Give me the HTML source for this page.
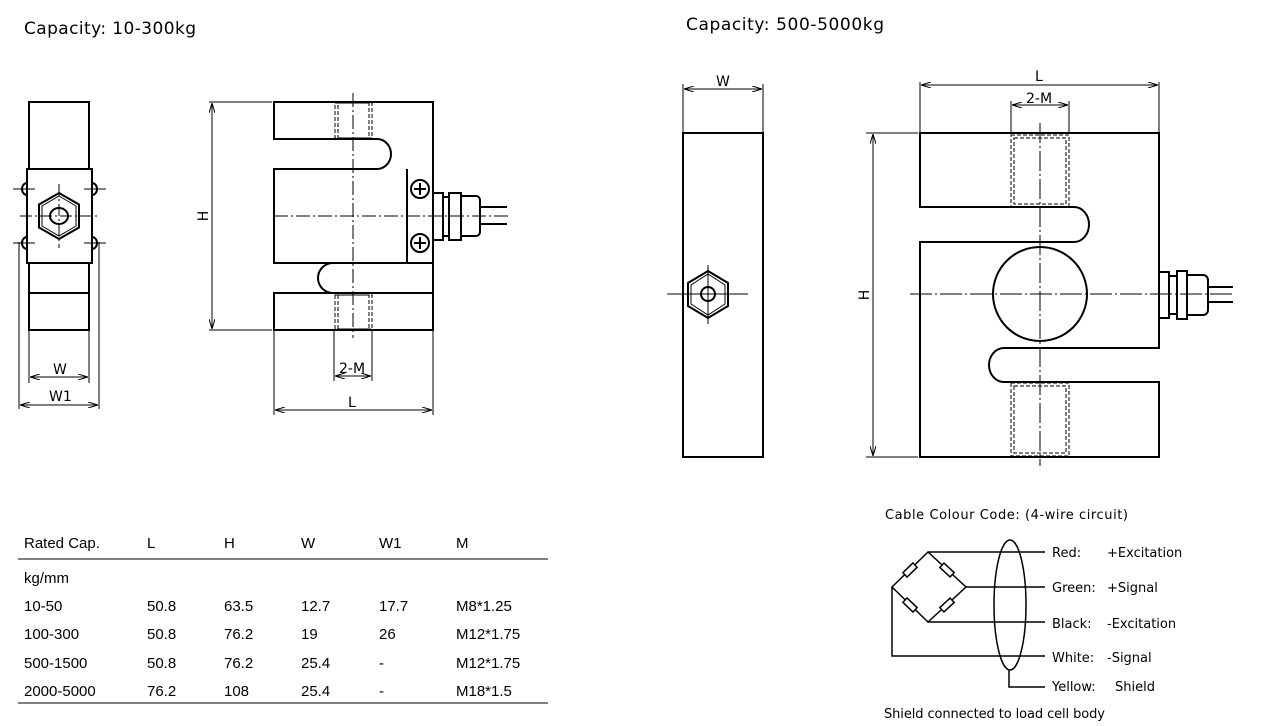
<!DOCTYPE html>
<html><head><meta charset="utf-8"><style>
html,body{margin:0;padding:0;background:#fff;}
svg{display:block}
.t{font-family:"DejaVu Sans","Liberation Sans",sans-serif;fill:#000}
.a{font-family:"Liberation Sans",Arial,sans-serif;font-size:15px;fill:#000}
</style></head><body>
<svg width="1263" height="726" viewBox="0 0 1263 726" xmlns="http://www.w3.org/2000/svg">
<defs>
<marker id="ar" viewBox="0 0 10 6" refX="10" refY="3" markerWidth="10" markerHeight="6" orient="auto-start-reverse" markerUnits="userSpaceOnUse"><path d="M0,0 L10,3 L0,6" fill="none" stroke="#000" stroke-width="1"/></marker>
</defs>
<g class="t">
<text x="24" y="34" font-size="17" textLength="172">Capacity: 10-300kg</text>
<text x="686" y="30" font-size="17" textLength="198">Capacity: 500-5000kg</text>
</g>

<!-- LEFT SIDE VIEW -->
<g fill="none" stroke="#000" stroke-width="2">
<rect x="29" y="102" width="60" height="228"/>
<path d="M27,183 a5,6 0 0 0 0,12 z M27,237 a5,6 0 0 0 0,12z M92,183 a5,6 0 0 1 0,12z M92,237 a5,6 0 0 1 0,12z"/>
<rect x="27" y="169" width="65" height="94" fill="#fff"/>
<line x1="29" y1="293" x2="89" y2="293"/>
<polygon points="59,193 79,204.5 79,227.5 59,239 39,227.5 39,204.5"/>
<polygon points="59,196 76,206 76,226 59,236 42,226 42,206" stroke-width="1"/>
<ellipse cx="59" cy="216" rx="9" ry="8"/>
</g>
<g stroke="#000" stroke-width="1" fill="none">
<line x1="13" y1="189" x2="35" y2="189"/><line x1="13" y1="243" x2="35" y2="243"/>
<line x1="84" y1="189" x2="106" y2="189"/><line x1="84" y1="243" x2="106" y2="243"/>
<line x1="20" y1="216" x2="100" y2="216" stroke-dasharray="12 3 2 3"/>
<line x1="59" y1="184" x2="59" y2="248" stroke-dasharray="12 3 2 3"/>
<line x1="29" y1="330" x2="29" y2="383"/><line x1="89" y1="330" x2="89" y2="383"/>
<line x1="19" y1="242" x2="19" y2="409"/><line x1="99" y1="242" x2="99" y2="409"/>
<line x1="30" y1="377" x2="88" y2="377" marker-start="url(#ar)" marker-end="url(#ar)"/>
<line x1="20" y1="405" x2="98" y2="405" marker-start="url(#ar)" marker-end="url(#ar)"/>
</g>
<g class="t" font-size="14"><text x="53" y="374">W</text><text x="49" y="401">W1</text></g>

<!-- LEFT FRONT VIEW -->
<g fill="none" stroke="#000" stroke-width="2">
<path d="M433,102 H274 V139 H377 A14,15 0 0 1 377,169 H274 V263 H333 A15,15 0 0 0 333,293 H274 V330 H433 Z"/>
<line x1="433" y1="102" x2="433" y2="330"/>
<line x1="407" y1="169" x2="407" y2="263"/>
<line x1="433" y1="263" x2="333" y2="263"/>
<line x1="433" y1="293" x2="333" y2="293"/>
<circle cx="420" cy="189" r="9"/><circle cx="420" cy="243" r="9"/>
<rect x="433" y="193" width="10" height="47"/>
<rect x="449" y="193" width="12" height="47"/>
<path d="M443,197 H449 M443,236 H449"/>
<path d="M461,196 H476 a4,4 0 0 1 4,4 V232 a4,4 0 0 1 -4,4 H461"/>
<line x1="480" y1="207" x2="507" y2="207"/><line x1="480" y1="224" x2="507" y2="224"/>
</g>
<g stroke="#000" stroke-width="2"><path d="M414,189 h12 M420,183 v12 M414,243 h12 M420,237 v12"/></g>
<g fill="none" stroke="#000" stroke-width="1" stroke-dasharray="4 2">
<rect x="335" y="103" width="37" height="35"/><rect x="335" y="295" width="37" height="34"/>
<rect x="338" y="103" width="31" height="35"/><rect x="338" y="295" width="31" height="34"/>
</g>
<g stroke="#000" stroke-width="1" fill="none">
<line x1="353" y1="93" x2="353" y2="338" stroke-dasharray="14 3 2 3"/>
<line x1="274" y1="216" x2="508" y2="216" stroke-dasharray="14 3 2 3"/>
<line x1="209" y1="102" x2="272" y2="102"/><line x1="209" y1="330" x2="272" y2="330"/>
<line x1="212" y1="103" x2="212" y2="329" marker-start="url(#ar)" marker-end="url(#ar)"/>
<line x1="334" y1="331" x2="334" y2="381"/><line x1="372" y1="331" x2="372" y2="381"/>
<line x1="335" y1="376" x2="371" y2="376" marker-start="url(#ar)" marker-end="url(#ar)"/>
<line x1="274" y1="331" x2="274" y2="415"/><line x1="433" y1="331" x2="433" y2="415"/>
<line x1="275" y1="410" x2="432" y2="410" marker-start="url(#ar)" marker-end="url(#ar)"/>
</g>
<g class="t" font-size="14">
<text x="339" y="373">2-M</text><text x="348" y="407">L</text>
<text transform="translate(208,216) rotate(-90)" text-anchor="middle">H</text>
</g>

<!-- RIGHT SIDE VIEW -->
<g fill="none" stroke="#000" stroke-width="2">
<rect x="683" y="133" width="80" height="324"/>
<polygon points="708,271 728,283 728,306 708,318 688,306 688,283"/>
<polygon points="708,274 725,285 725,304 708,315 691,304 691,285" stroke-width="1"/>
<circle cx="708" cy="294" r="7"/>
</g>
<g stroke="#000" stroke-width="1" fill="none">
<line x1="667" y1="294" x2="748" y2="294"/><line x1="708" y1="265" x2="708" y2="324"/>
<line x1="683" y1="84" x2="683" y2="132"/><line x1="763" y1="84" x2="763" y2="132"/>
<line x1="684" y1="89" x2="762" y2="89" marker-start="url(#ar)" marker-end="url(#ar)"/>
</g>
<text class="t" x="716" y="86" font-size="14">W</text>

<!-- RIGHT FRONT VIEW -->
<g fill="none" stroke="#000" stroke-width="2">
<path d="M920,133 H1159 V348 H1004 A15,17 0 0 0 1004,382 H1159 V457 H920 V242 H1074 A15,17.5 0 0 0 1074,207 H920 Z"/>
<circle cx="1040" cy="294" r="47"/>
<rect x="1159" y="272" width="10" height="46"/>
<rect x="1177" y="271" width="10" height="48"/>
<path d="M1169,276 H1177 M1169,314 H1177"/>
<path d="M1187,275 H1203 a5,5 0 0 1 5,5 V310 a5,5 0 0 1 -5,5 H1187"/>
<line x1="1208" y1="287" x2="1233" y2="287"/><line x1="1208" y1="302" x2="1233" y2="302"/>
</g>
<g fill="none" stroke="#000" stroke-width="1" stroke-dasharray="4 2">
<rect x="1011" y="135" width="58" height="72"/><rect x="1014" y="138" width="52" height="66"/>
<rect x="1011" y="383" width="58" height="73"/><rect x="1014" y="386" width="52" height="67"/>
</g>
<g stroke="#000" stroke-width="1" fill="none">
<line x1="1040" y1="123" x2="1040" y2="466" stroke-dasharray="20 3 2 3"/>
<line x1="910" y1="294" x2="1234" y2="294" stroke-dasharray="22 3 2 3"/>
<line x1="866" y1="133" x2="918" y2="133"/><line x1="866" y1="457" x2="918" y2="457"/>
<line x1="873" y1="134" x2="873" y2="456" marker-start="url(#ar)" marker-end="url(#ar)"/>
<line x1="920" y1="82" x2="920" y2="132"/><line x1="1159" y1="82" x2="1159" y2="132"/>
<line x1="921" y1="85" x2="1158" y2="85" marker-start="url(#ar)" marker-end="url(#ar)"/>
<line x1="1011" y1="101" x2="1011" y2="132"/><line x1="1069" y1="101" x2="1069" y2="132"/>
<line x1="1012" y1="105" x2="1068" y2="105" marker-start="url(#ar)" marker-end="url(#ar)"/>
</g>
<g class="t" font-size="14">
<text x="1035" y="81">L</text><text x="1026" y="103">2-M</text>
<text transform="translate(869,295) rotate(-90)" text-anchor="middle">H</text>
</g>

<!-- TABLE -->
<g class="a">
<text x="24" y="548">Rated Cap.</text><text x="147" y="548">L</text><text x="224" y="548">H</text><text x="301" y="548">W</text><text x="379" y="548">W1</text><text x="456" y="548">M</text>
<text x="24" y="583">kg/mm</text>
<text x="24" y="611">10-50</text><text x="147" y="611">50.8</text><text x="224" y="611">63.5</text><text x="301" y="611">12.7</text><text x="379" y="611">17.7</text><text x="456" y="611">M8*1.25</text>
<text x="24" y="639">100-300</text><text x="147" y="639">50.8</text><text x="224" y="639">76.2</text><text x="301" y="639">19</text><text x="379" y="639">26</text><text x="456" y="639">M12*1.75</text>
<text x="24" y="668">500-1500</text><text x="147" y="668">50.8</text><text x="224" y="668">76.2</text><text x="301" y="668">25.4</text><text x="379" y="668">-</text><text x="456" y="668">M12*1.75</text>
<text x="24" y="696">2000-5000</text><text x="147" y="696">76.2</text><text x="224" y="696">108</text><text x="301" y="696">25.4</text><text x="379" y="696">-</text><text x="456" y="696">M18*1.5</text>
</g>
<g stroke="#000" stroke-width="1"><line x1="18" y1="559" x2="548" y2="559"/><line x1="18" y1="703" x2="548" y2="703"/></g>

<!-- WIRING -->
<g class="t" font-size="13">
<text x="885" y="519" textLength="243">Cable Colour Code: (4-wire circuit)</text>
<text x="1052" y="557">Red:</text><text x="1107" y="557">+Excitation</text>
<text x="1052" y="592">Green:</text><text x="1107" y="592">+Signal</text>
<text x="1052" y="628">Black:</text><text x="1107" y="628">-Excitation</text>
<text x="1052" y="662">White:</text><text x="1107" y="662">-Signal</text>
<text x="1052" y="691">Yellow:</text><text x="1115" y="691">Shield</text>
<text x="884" y="718" textLength="221">Shield connected to load cell body</text>
</g>
<g fill="none" stroke="#000" stroke-width="1.5">
<polygon points="928,552 966,587 928,622 892,587"/>
<line x1="928" y1="552" x2="1045" y2="552"/>
<line x1="966" y1="587" x2="1045" y2="587"/>
<line x1="928" y1="622" x2="1045" y2="622"/>
<polyline points="892,587 892,656 1045,656"/>
<ellipse cx="1010" cy="605" rx="16" ry="65" fill="none"/>
<polyline points="1009,670 1009,687 1045,687"/>
<g fill="#fff">
<rect x="-7" y="-3" width="14" height="6" transform="translate(910,570) rotate(-44)"/>
<rect x="-7" y="-3" width="14" height="6" transform="translate(947,570) rotate(43)"/>
<rect x="-7" y="-3" width="14" height="6" transform="translate(910,605) rotate(44)"/>
<rect x="-7" y="-3" width="14" height="6" transform="translate(947,605) rotate(-43)"/>
</g>
</g>
</svg>
</body></html>
